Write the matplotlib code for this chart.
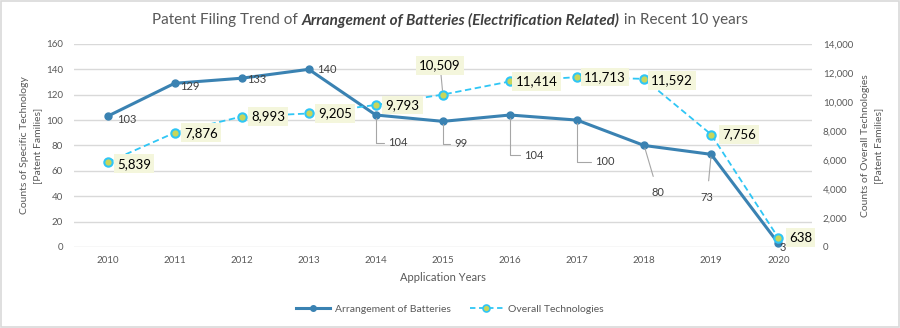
import matplotlib
matplotlib.use("Agg")
import matplotlib.pyplot as plt
from matplotlib.lines import Line2D

plt.rcParams['font.family'] = ['Lato', 'DejaVu Sans']

years = ['2010', '2011', '2012', '2013', '2014', '2015', '2016', '2017', '2018', '2019', '2020']
arrangement = [103, 129, 133, 140, 104, 99, 104, 100, 80, 73, 3]
overall = [5839, 7876, 8993, 9205, 9793, 10509, 11414, 11713, 11592, 7756, 638]

# label offsets in points (dx, dy) and the kind of leader line
arr_offsets = [(14, -2), (11, -2), (11, -1), (13, 0), (16, -20), (13, -16), (17, -29), (20, -30),
               (10, -34), (-3, -31), (3, -3)]
arr_leader = [None, None, None, None, 'angle', 'angle', 'angle', 'angle', 'line', 'line', None]
ov_offsets = [(19, -1), (19, 0), (19, 0), (19, 0), (19, 0), (-2, 21), (19, 0), (20, 0), (20, -1),
              (20, 0), (16, 0)]
ov_leader = [False] * 5 + [True] + [False] * 5

C_ARR = '#3A82B2'
C_OV = '#2FC6F5'
C_MK = '#C8D65A'
GRAY = '#595959'

fig = plt.figure(figsize=(9, 3.28), dpi=100)
ax = fig.add_axes([0.0822, 0.247, 0.8198, 0.619])
ax2 = ax.twinx()

x = list(range(len(years)))
ax.plot(x, arrangement, color=C_ARR, lw=2.2, marker='o', ms=5, zorder=3)
ax2.plot(x, overall, color=C_OV, lw=1.3, ls=(0, (3.5, 2)), marker='o', ms=6,
         mfc=C_MK, mec=C_OV, mew=1.5, zorder=3)

ax.set_xlim(-0.5, 10.5)
ax.set_ylim(0, 160)
ax2.set_ylim(0, 14000)
ax.set_yticks(range(0, 161, 20))
ax2.set_yticks(range(0, 14001, 2000))
ax2.set_yticklabels([f'{v:,}' for v in range(0, 14001, 2000)])
ax.set_xticks(x)
ax.set_xticklabels(years)

ax.grid(axis='y', color='#D9D9D9', lw=1)
ax.set_axisbelow(True)
for a in (ax, ax2):
    for s in a.spines.values():
        s.set_visible(False)
    a.tick_params(length=0, labelsize=7, labelcolor=GRAY)
ax.tick_params(axis='x', pad=6.5)
ax.tick_params(axis='y', pad=8)
ax2.tick_params(axis='y', pad=8)

ax.set_xlabel('Application Years', fontsize=8, color=GRAY, labelpad=5)
ax.set_ylabel('Counts of Specific Technology\n[Patent Families]', fontsize=7.5, color=GRAY,
              labelpad=3, linespacing=1.5)
ax2.set_ylabel('Counts of Overall Technologies\n[Patent Families]', fontsize=7.5, color=GRAY,
               labelpad=6, linespacing=1.5)

# data labels: specific technology
for i, v in enumerate(arrangement):
    dx, dy = arr_offsets[i]
    kw = {}
    if arr_leader[i] == 'angle':
        kw['arrowprops'] = dict(arrowstyle='-', color='#A6A6A6', lw=0.8, shrinkA=1, shrinkB=2,
                                connectionstyle='angle,angleA=0,angleB=90,rad=0')
    elif arr_leader[i] == 'line':
        kw['arrowprops'] = dict(arrowstyle='-', color='#A6A6A6', lw=0.8, shrinkA=6, shrinkB=2)
    ax.annotate(str(v), (i, v), xytext=(dx, dy), textcoords='offset points',
                ha='center', va='center', fontsize=8, color='#404040', zorder=5, **kw)

# data labels: overall technologies
for i, v in enumerate(overall):
    dx, dy = ov_offsets[i]
    kw = {}
    if ov_leader[i]:
        kw['arrowprops'] = dict(arrowstyle='-', color='#A6A6A6', lw=0.8, shrinkA=0, shrinkB=3)
    ax2.annotate(f'{v:,}', (i, v), xytext=(dx, dy), textcoords='offset points',
                 ha='center', va='center', fontsize=9.5, color='black', zorder=6,
                 bbox=dict(boxstyle='square,pad=0.25', fc='#F4F6DC', ec='none'), **kw)

# title composed of plain and bold-italic parts
parts = [('Patent Filing Trend of ', dict(color=GRAY)),
         ('Arrangement of Batteries (Electrification Related)',
          dict(color='#3F3F3F', fontweight='bold', fontstyle='italic')),
         (' in Recent 10 years', dict(color=GRAY))]
renderer = fig.canvas.get_renderer()
texts = []
widths = []
for s, kw in parts:
    t = fig.text(0, 0.938, s, fontsize=11, va='center', ha='left', **kw)
    texts.append(t)
    widths.append(t.get_window_extent(renderer).width)
total = sum(widths)
xpix = 450 - total / 2
for t, w in zip(texts, widths):
    t.set_x(xpix / 900)
    xpix += w

# legend
handles = [Line2D([], [], color=C_ARR, lw=2.2, marker='o', ms=4),
           Line2D([], [], color=C_OV, lw=1.3, ls=(0, (3, 2)), marker='o', ms=5,
                  mfc=C_MK, mec=C_OV, mew=1.2)]
fig.legend(handles, ['Arrangement of Batteries', 'Overall Technologies'],
           loc='center', bbox_to_anchor=(0.5, 0.058), ncol=2, frameon=False,
           fontsize=7.5, labelcolor=GRAY, handlelength=3.2, handletextpad=0.5,
           columnspacing=1.8)

# outer border
fig.patches.append(plt.Rectangle((0.001, 0.002), 0.998, 0.996, transform=fig.transFigure,
                                 fill=False, ec='#D9D9D9', lw=1.2))

fig.savefig('out.png', dpi=100)
